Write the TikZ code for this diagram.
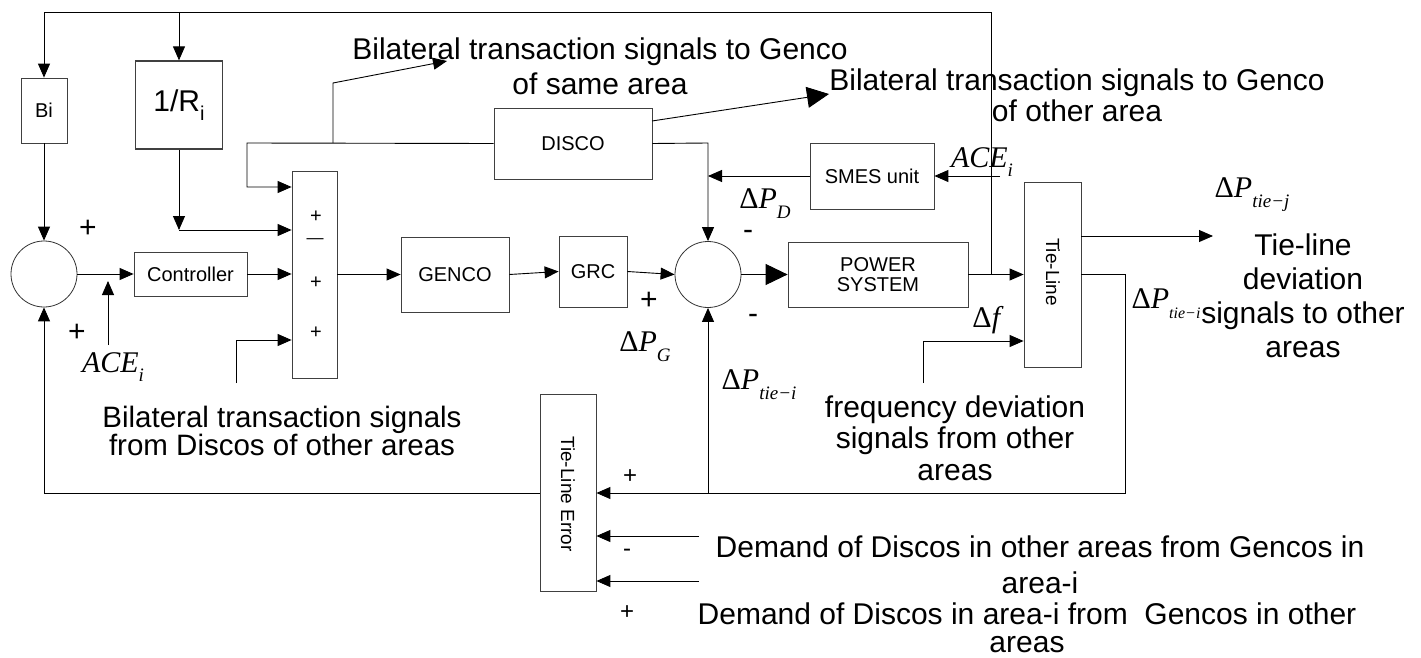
\documentclass[tikz,border=0pt]{standalone}
\usepackage{fontspec}
\setmainfont{Liberation Sans}
\newfontfamily\tms{Liberation Serif}
\usetikzlibrary{arrows.meta,shapes.geometric}

% italic Times-style signal labels
\newcommand{\dP}[2][19]{{\tms\fontsize{30}{30}\selectfont Δ\textit{P}\raisebox{-0.33em}{\fontsize{#1}{#1}\selectfont\textit{#2}}}}
\newcommand{\ACE}{{\tms\fontsize{30}{30}\selectfont\textit{ACE}\raisebox{-0.3em}{\fontsize{19}{19}\selectfont\textit{i}}}}

\tikzset{
  blk/.style={draw=black!75, line width=0.8pt, inner sep=0pt, align=center,
    font=\fontsize{20}{22}\selectfont},
  vtxt/.style={inner sep=0pt, rotate=-90, font=\fontsize{19}{19}\selectfont},
  sumc/.style={circle, draw=black!80, line width=0.8pt, minimum size=66pt, inner sep=0pt},
  wire/.style={line width=0.9pt},
  arr/.style={wire, -{Triangle[length=14pt,width=12pt]}},
  bigarr/.style={wire, -{Triangle[length=22pt,width=21pt]}},
  lbl/.style={inner sep=0pt, align=center, font=\fontsize{30}{34}\selectfont},
  sgn/.style={inner sep=0pt, font=\fontsize{30}{30}\selectfont},
  ssgn/.style={inner sep=0pt, font=\fontsize{20}{20}\selectfont},
  msgn/.style={inner sep=0pt, font=\fontsize{24}{24}\selectfont},
}

\begin{document}
\begin{tikzpicture}[x=1pt,y=-1pt]
\useasboundingbox (0,0) rectangle (1421,658);

% ---- blocks ----
\node[blk, minimum width=46pt, minimum height=65pt] (Bi) at (44,110.5) {Bi};
\node[blk, line width=1.3pt, minimum width=87pt, minimum height=88pt, font=\fontsize{30}{30}\selectfont] (R) at (179,105)
  {1/R\raisebox{-0.3em}{\fontsize{20}{20}\selectfont i}};
\node[sumc] (c1) at (44,274) {};
\node[blk, minimum width=113pt, minimum height=44pt] (ctrl) at (190.5,274) {Controller};
\node[blk, minimum width=45pt, minimum height=207pt] (sumb) at (314.5,274.5) {};
\node[blk, minimum width=108pt, minimum height=75pt] (genco) at (455,274.5) {GENCO};
\node[blk, minimum width=68pt, minimum height=71pt] (grc) at (593,271.5) {GRC};
\node[sumc] (c2) at (708,274.5) {};
\node[blk, minimum width=158pt, minimum height=71pt] (disco) at (573,143.5) {DISCO};
\node[blk, minimum width=124pt, minimum height=66pt] (smes) at (872,176) {SMES unit};
\node[blk, minimum width=180pt, minimum height=65pt] (ps) at (878,274.5) {POWER\\[-2pt]SYSTEM};
\node[blk, minimum width=57pt, minimum height=185pt] (tl) at (1052.5,274.5) {};
\node[vtxt] (tltxt) at (1053,272) {Tie-Line};
\node[blk, minimum width=56pt, minimum height=197pt] (tle) at (568,493) {};
\node[vtxt] (tletxt) at (568,494) {Tie-Line Error};

% signs inside the summing block
\node[ssgn] (s1) at (316,217) {+};
\node[ssgn, font=\fontsize{17}{17}\selectfont] (s2) at (315,241) {—};
\node[ssgn] (s3) at (316,283) {+};
\node[ssgn] (s4) at (316,333) {+};

% ---- free ends and bends ----
\coordinate (jn) at (991,274.5);
\coordinate (tl0) at (44,12);
\coordinate (tR) at (179,12);
\coordinate (rc) at (179,230);
\coordinate (ace1) at (108,345);
\coordinate (ace1t) at (108,281);
\coordinate (bl) at (236,383);
\coordinate (bt) at (236,340);
\coordinate (dl) at (247,143);
\coordinate (dl2) at (247,187);
\coordinate (br0) at (333,143);
\coordinate (br1) at (333,83);
\coordinate (br2) at (447,61);
\coordinate (ds) at (652,121);
\coordinate (do) at (829,94);
\coordinate (dr) at (708,143);
\coordinate (sm) at (708,176);
\coordinate (acer) at (1000,176);
\coordinate (tj) at (1213,236);
\coordinate (f0) at (923,383);
\coordinate (f1) at (923,341);
\coordinate (o1) at (1125,274.5);
\coordinate (o2) at (1125,493);
\coordinate (pj) at (708,493);
\coordinate (lf) at (44,493);
\coordinate (d1) at (699,536);
\coordinate (d2) at (699,581);

% ---- connectors ----
\draw[wire] (ps.east) -- (jn);
\draw[arr] (jn) -- (tl.west);
\draw[arr] (jn) |- (tl0) -- (Bi.north);
\draw[arr] (tR) -- (R.north);
\draw[arr] (Bi.south) -- (c1.north);
\draw[arr] (R.south) -- (rc);
\draw[arr] (rc) -- (rc -| sumb.west);
\draw[arr] (c1.east) -- (ctrl.west);
\draw[arr] (ace1) -- (ace1t);
\draw[arr] (ctrl.east) -- (ctrl.east -| sumb.west);
\draw[arr] (bl) -- (bt) -- (bt -| sumb.west);
\draw[arr] (disco.west) -- (dl) -- (dl2) -- (dl2 -| sumb.west);
\draw[arr] (br0) -- (br1) -- (br2);
\draw[bigarr] (ds) -- (do);
\draw[arr] (disco.east) -- (dr) -- (c2.north);
\draw[arr] (smes.west) -- (sm);
\draw[arr] (acer) -- (smes.east);
\draw[arr] (sumb.east) -- (genco.west);
\draw[arr] (genco.east) -- (grc.west);
\draw[arr] (grc.east) -- (c2.west);
\draw[bigarr] (c2.east) -- (ps.west);
\draw[arr] (tl.east |- tj) -- (tj);
\draw[arr] (f0) -- (f1) -- (f1 -| tl.west);
\draw[arr] (tl.east) -- (o1) -- (o2) -- (tle.east);
\draw[arr] (pj) -- (c2.south);
\draw[arr] (tle.west) -- (lf) -- (c1.south);
\draw[arr] (d1) -- (d1 -| tle.east);
\draw[arr] (d2) -- (d2 -| tle.east);

% ---- signs ----
\node[sgn] (p1) at (88,229) {+};
\node[sgn] (p2) at (77,333) {+};
\node[sgn] (p3) at (649,301) {+};
\node[sgn] (m1) at (748,235) {-};
\node[sgn] (m2) at (753,319) {-};
\node[msgn] (p4) at (630,477) {+};
\node[msgn] (m3) at (627,553) {-};
\node[msgn] (p5) at (627,613) {+};

% ---- signal labels ----
\node[inner sep=0pt] (lace1) at (113,367) {\ACE};
\node[inner sep=0pt] (lace2) at (982,162) {\ACE};
\node[inner sep=0pt] (lpd) at (765,204) {\dP{D}};
\node[inner sep=0pt] (lpg) at (645,347) {\dP{G}};
\node[inner sep=0pt] (lpti) at (759,385) {\dP{tie−i}};
\node[inner sep=0pt] (lptj) at (1252,195) {\dP{tie−j}};
\node[inner sep=0pt] (lpti2) at (1166,304) {\dP[16]{tie−i}};
\node[inner sep=0pt] (ldf) at (988,320) {{\tms\fontsize{30}{30}\selectfont Δ\textit{f}}};

% ---- descriptive texts ----
\node[lbl, font=\fontsize{30}{35}\selectfont] (t1) at (600,66) {Bilateral transaction signals to Genco\\of same area};
\node[lbl, font=\fontsize{30}{31}\selectfont] (t2) at (1077,95) {Bilateral transaction signals to Genco\\of other area};
\node[lbl] (t3) at (1303,296) {Tie-line\\deviation\\signals to other\\areas};
\node[lbl, font=\fontsize{30}{31.5}\selectfont] (t4) at (955,438) {frequency deviation\\signals from other\\areas};
\node[lbl, font=\fontsize{29.5}{28}\selectfont] (t5) at (282,431) {Bilateral transaction signals\\from Discos of other areas};
\node[lbl, font=\fontsize{30}{36}\selectfont] (t6) at (1040,565) {Demand of Discos in other areas from Gencos in\\area-i};
\node[lbl, font=\fontsize{30}{28}\selectfont] (t7) at (1027,628) {Demand of Discos in area-i from\ \ Gencos in other\\areas};
\end{tikzpicture}
\end{document}
